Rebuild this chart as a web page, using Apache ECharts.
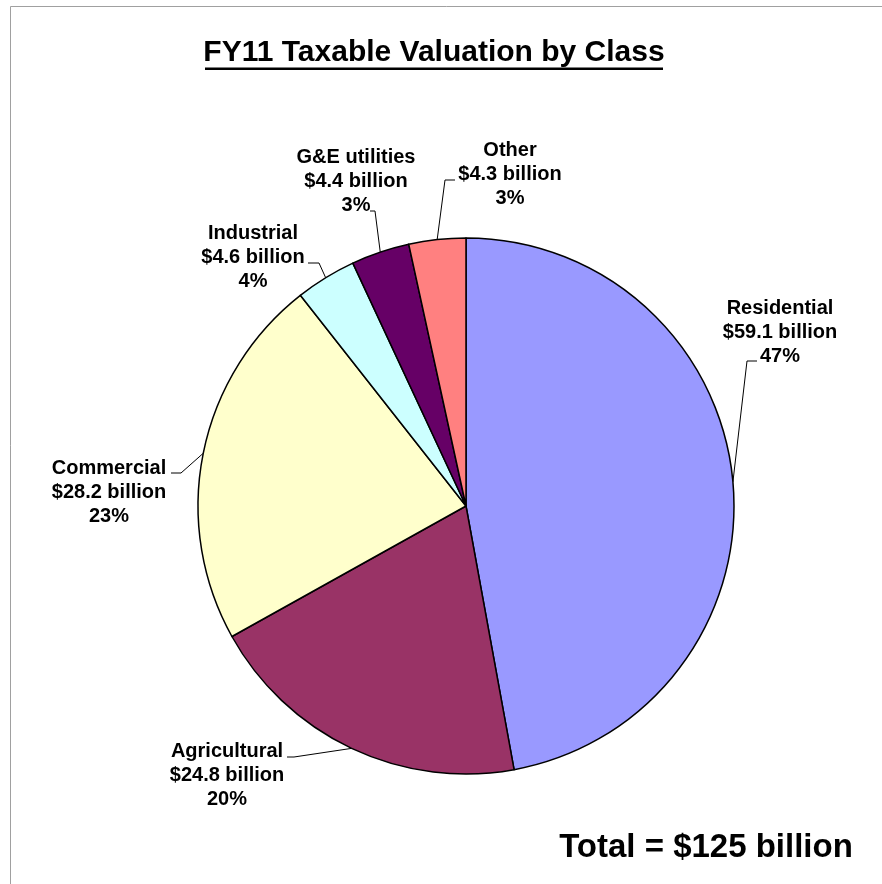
<!DOCTYPE html>
<html>
<head>
<meta charset="utf-8">
<script src="https://cdn.jsdelivr.net/npm/echarts@6/dist/echarts.min.js"></script>
<style>
html,body{margin:0;padding:0;background:#fff;}
#chart{width:882px;height:884px;}
</style>
</head>
<body>
<div id="chart"></div>
<script>
// ---- data ----
var categories = ['Residential', 'Agricultural', 'Commercial', 'Industrial', 'G&E utilities', 'Other'];
var values = [59.1, 24.8, 28.2, 4.6, 4.4, 4.3];
var percentLabels = ['47%', '20%', '23%', '4%', '3%', '3%'];
var colors = ['#9999FF', '#993366', '#FFFFCC', '#CCFFFF', '#660066', '#FF8080'];
var titleText = 'FY11 Taxable Valuation by Class';
var totalText = 'Total = $125 billion';

// ---- layout only ----
// label block centres
var labelPos = [[780, 332], [227, 775], [109, 492], [253, 257], [356, 181], [510, 174]];
// leader-line attachment point on each label: [x, y, side, horizontal segment length]
var leaderEnd = [[757, 361, 'left', 10], [287, 757, 'right', 7], [171, 473, 'right', 10],
                 [308, 263, 'right', 11], [370, 211, 'right', 5], [455, 180, 'left', 10]];

var FONT = 'Arial, "Liberation Sans", Helvetica, sans-serif';
var CENTER = [466, 506];
var RADIUS = 268;

var chart = echarts.init(document.getElementById('chart'), null, {renderer: 'canvas'});

var pieData = categories.map(function (c, i) {
  return {name: c, value: values[i], itemStyle: {color: colors[i]}};
});
var guideData = categories.map(function (c, i) {
  return {name: c, value: values[i], labelLine: {length2: leaderEnd[i][3]}};
});

chart.setOption({
  animation: false,
  backgroundColor: '#ffffff',
  graphic: [
    {type: 'rect', shape: {x: 10.5, y: 6.5, width: 900, height: 900},
     style: {fill: 'none', stroke: '#a0a0a0', lineWidth: 1}, silent: true, z: -1},
    {type: 'text', x: 434, y: 53,
     style: {text: titleText, font: 'bold 30px ' + FONT, fill: '#000', textAlign: 'center', textVerticalAlign: 'middle'}},
    {type: 'rect', shape: {x: 205, y: 67.5, width: 458, height: 2.5}, style: {fill: '#000'}},
    {type: 'text', x: 706, y: 848,
     style: {text: totalText, font: 'bold 33px ' + FONT, fill: '#000', textAlign: 'center', textVerticalAlign: 'middle'}}
  ],
  series: [{
    type: 'pie',
    center: CENTER,
    radius: RADIUS,
    startAngle: 90,
    clockwise: true,
    avoidLabelOverlap: false,
    data: pieData,
    z: 2,
    itemStyle: {borderColor: '#000', borderWidth: 1.5},
    label: {
      show: true,
      position: 'outside',
      formatter: function (p) {
        return p.name + '\n$' + p.value.toFixed(1) + ' billion\n' + percentLabels[p.dataIndex];
      },
      fontFamily: FONT,
      fontWeight: 'bold',
      fontSize: 20,
      lineHeight: 24,
      color: '#000',
      align: 'center'
    },
    labelLine: {show: false},
    labelLayout: function (params) {
      var p = labelPos[params.dataIndex];
      return {x: p[0], y: p[1], align: 'center', verticalAlign: 'middle'};
    },
    emphasis: {disabled: true}
  }, {
    // leader lines only (transparent sectors, blank label boxes)
    type: 'pie',
    center: CENTER,
    radius: RADIUS,
    startAngle: 90,
    clockwise: true,
    avoidLabelOverlap: false,
    silent: true,
    z: 1,
    data: guideData,
    itemStyle: {color: 'rgba(0,0,0,0)', borderWidth: 0},
    label: {show: true, position: 'outside', formatter: function () { return ' '; },
            fontSize: 4, color: 'rgba(0,0,0,0)', backgroundColor: 'rgba(255,255,255,0)'},
    labelLine: {show: true, length: 20, length2: 10, smooth: false, lineStyle: {color: '#000', width: 1}},
    labelLayout: function (params) {
      var e = leaderEnd[params.dataIndex];
      var w = 200;
      var cx = e[2] === 'left' ? e[0] + w / 2 : e[0] - w / 2;
      return {x: cx, y: e[1], width: w, height: 4, align: 'center', verticalAlign: 'middle'};
    },
    emphasis: {disabled: true}
  }]
});
</script>
</body>
</html>
